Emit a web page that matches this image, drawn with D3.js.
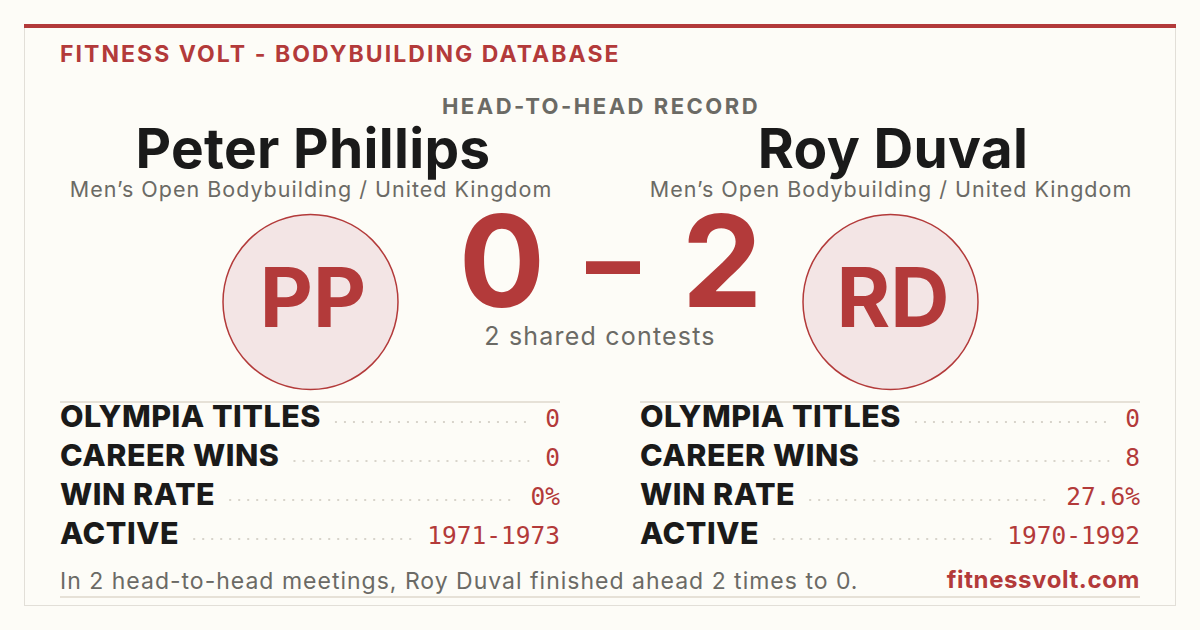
<!DOCTYPE html>
<html>
<head>
<meta charset="utf-8">
<script src="https://cdn.jsdelivr.net/npm/d3@7"></script>
<style>
  html, body { margin: 0; padding: 0; background: #fdfcf7; }
  svg { display: block; }
</style>
</head>
<body>
<div id="chart"></div>
<script>
// data
const brand = 'FITNESS VOLT - BODYBUILDING DATABASE'
const kicker = 'HEAD-TO-HEAD RECORD'
const athletes = ['Peter Phillips', 'Roy Duval']
const initials = ['PP', 'RD']
const divisions = ['Men\u2019s Open Bodybuilding / United Kingdom', 'Men\u2019s Open Bodybuilding / United Kingdom']
const score = [0, 2]
const sharedContests = 2
const statLabels = ['OLYMPIA TITLES', 'CAREER WINS', 'WIN RATE', 'ACTIVE']
const statsA = ['0', '0', '0%', '1971-1973']
const statsB = ['0', '8', '27.6%', '1970-1992']
const summary = 'In 2 head-to-head meetings, Roy Duval finished ahead 2 times to 0.'
const site = 'fitnessvolt.com'

const W = 1200
const H = 630
const red = '#b33a3a'
const ink = '#1a1a1a'
const grey = '#6b6a65'
const rule = '#e6e1d7'
const sans = 'Inter, "Open Sans", sans-serif'
const mono = '"DejaVu Sans Mono", "Liberation Mono", monospace'

const svg = d3.select('#chart')
  .append('svg')
  .attr('width', W)
  .attr('height', H)

svg.append('rect')
  .attr('width', W).attr('height', H)
  .attr('fill', '#fdfcf7')

// card
svg.append('rect')
  .attr('x', 24.5).attr('y', 24.5)
  .attr('width', 1151).attr('height', 581)
  .attr('fill', '#fdfcf7')
  .attr('stroke', '#e2dfd8')
svg.append('rect')
  .attr('x', 24).attr('y', 24)
  .attr('width', 1152).attr('height', 4)
  .attr('fill', red)

svg.append('text')
  .attr('x', 60).attr('y', 62)
  .attr('font-family', sans).attr('font-size', 23).attr('font-weight', 700)
  .attr('letter-spacing', 2.05)
  .attr('fill', red)
  .text(brand)

svg.append('text')
  .attr('x', W / 2 + 1).attr('y', 114)
  .attr('text-anchor', 'middle')
  .attr('font-family', sans).attr('font-size', 22).attr('font-weight', 700)
  .attr('letter-spacing', 2.5)
  .attr('fill', grey)
  .text(kicker)

// two sides
const side = d3.scaleOrdinal().domain([0, 1]).range([311, 891])
const colX = d3.scaleOrdinal().domain([0, 1]).range([60, 640])
const colW = 500

const sides = svg.selectAll('g.side')
  .data(athletes.map((name, i) => ({ i, name, ini: initials[i], div: divisions[i] })))
  .enter().append('g')
  .attr('class', 'side')

sides.append('text')
  .attr('x', d => side(d.i) + 2).attr('y', 168)
  .attr('text-anchor', 'middle')
  .attr('font-family', sans).attr('font-size', 55).attr('font-weight', 700)
  .attr('letter-spacing', 0.3)
  .attr('fill', ink)
  .text(d => d.name)

sides.append('text')
  .attr('x', d => side(d.i)).attr('y', 197)
  .attr('text-anchor', 'middle')
  .attr('font-family', sans).attr('font-size', 21.5)
  .attr('letter-spacing', 1.0)
  .attr('fill', grey)
  .text(d => d.div)

sides.append('circle')
  .attr('cx', d => side(d.i) - 0.5).attr('cy', 302)
  .attr('r', 87.5)
  .attr('fill', '#f3e5e5')
  .attr('stroke', red).attr('stroke-width', 1.5)

sides.append('text')
  .attr('x', d => side(d.i) + 2).attr('y', 327)
  .attr('text-anchor', 'middle')
  .attr('font-family', sans).attr('font-size', 82).attr('font-weight', 700)
  .attr('fill', red)
  .text(d => d.ini)

// score: left number, dash, right number on a point scale
const scoreParts = [String(score[0]), '\u2013', String(score[1])]
const scoreX = d3.scalePoint().domain([0, 1, 2]).range([502, 722])

svg.selectAll('text.score')
  .data(scoreParts)
  .enter().append('text')
  .attr('class', 'score')
  .attr('x', (d, i) => scoreX(i) + (i === 1 ? 1 : 0))
  .attr('y', (d, i) => i === 1 ? 300 : 307)
  .attr('text-anchor', 'middle')
  .attr('font-family', sans)
  .attr('font-size', (d, i) => i === 1 ? 108 : 128)
  .attr('font-weight', 700)
  .attr('fill', red)
  .text(d => d)

svg.append('text')
  .attr('x', W / 2).attr('y', 345)
  .attr('text-anchor', 'middle')
  .attr('font-family', sans).attr('font-size', 25)
  .attr('letter-spacing', 1.2)
  .attr('fill', grey)
  .text(sharedContests + ' shared contests')

// stats tables
const rowY = d3.scaleLinear().domain([0, 1]).range([427, 466])

;[statsA, statsB].forEach((vals, i) => {
  const x0 = colX(i)
  const g = svg.append('g').attr('class', 'stats')

  g.append('line')
    .attr('x1', x0).attr('x2', x0 + colW)
    .attr('y1', 402).attr('y2', 402)
    .attr('stroke', rule).attr('stroke-width', 2)

  const rows = g.selectAll('g.row')
    .data(statLabels.map((label, j) => ({ j, label, value: vals[j] })))
    .enter().append('g')
    .attr('class', 'row')

  const labels = rows.append('text')
    .attr('x', x0).attr('y', d => rowY(d.j))
    .attr('font-family', sans).attr('font-size', 30.5).attr('font-weight', 800)
    .attr('letter-spacing', 0.5)
    .attr('fill', ink)
    .text(d => d.label)

  const values = rows.append('text')
    .attr('x', x0 + colW).attr('y', d => rowY(d.j))
    .attr('text-anchor', 'end')
    .attr('font-family', mono).attr('font-size', 24.5)
    .attr('fill', red)
    .text(d => d.value)

  // dotted leaders between label and value
  rows.each(function (d, j) {
    const lw = labels.nodes()[j].getComputedTextLength()
    const vw = values.nodes()[j].getComputedTextLength()
    d3.select(this).append('line')
      .attr('x1', x0 + lw + 14).attr('x2', x0 + colW - vw - 16)
      .attr('y1', rowY(d.j) - 5).attr('y2', rowY(d.j) - 5)
      .attr('stroke', '#d8d4cb').attr('stroke-width', 2)
      .attr('stroke-dasharray', '2 7')
  })
})

// footer
svg.append('text')
  .attr('x', 60).attr('y', 589)
  .attr('font-family', sans).attr('font-size', 23)
  .attr('letter-spacing', 1.0)
  .attr('fill', grey)
  .text(summary)

svg.append('text')
  .attr('x', 1140).attr('y', 588)
  .attr('text-anchor', 'end')
  .attr('font-family', sans).attr('font-size', 24).attr('font-weight', 700)
  .attr('letter-spacing', 0.6)
  .attr('fill', red)
  .text(site)

svg.append('line')
  .attr('x1', 60).attr('x2', 1140)
  .attr('y1', 597).attr('y2', 597)
  .attr('stroke', rule).attr('stroke-width', 2)
</script>
</body>
</html>
